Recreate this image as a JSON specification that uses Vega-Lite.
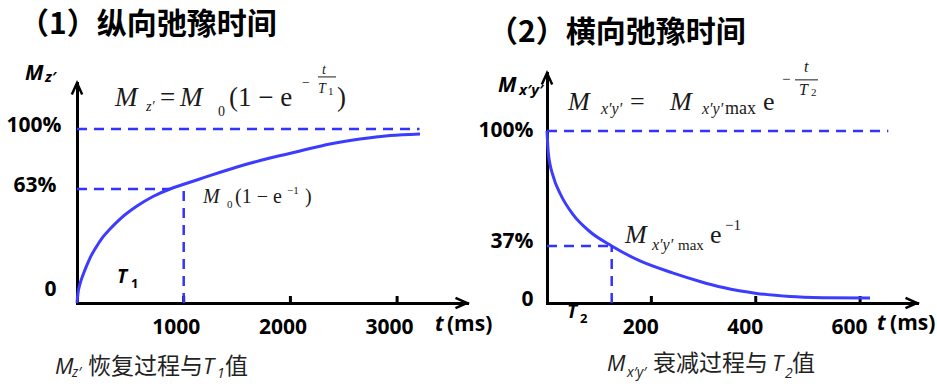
{
  "$schema": "https://vega.github.io/schema/vega-lite/v6.json",
  "width": 937,
  "height": 392,
  "autosize": {"type": "none"},
  "padding": 0,
  "background": "white",
  "config": {"view": {"stroke": null}, "axis": {"grid": false}},
  "resolve": {"scale": {"x": "independent", "y": "independent"}, "axis": {"x": "independent", "y": "independent"}},
  "layer": [
    {
      "encoding": {
        "x": {"field": "t", "type": "quantitative",
          "scale": {"domain": [0, 3655], "range": [77, 467], "nice": false, "zero": false},
          "axis": {"orient": "bottom", "offset": -89, "values": [1000, 2000, 3000], "format": "d", "title": null, "grid": false,
            "domainColor": "#000", "domainWidth": 3, "domainCap": "square", "ticks": false,
            "labelPadding": 13, "labelFont": "Open Sans", "labelFontWeight": "bold", "labelFontSize": 21, "labelColor": "#000",
            "labelOffset": -8, "labelFlush": false, "labelOverlap": false}},
        "y": {"field": "v", "type": "quantitative",
          "scale": {"type": "pow", "exponent": 0.9152, "domain": [0, 129.2], "range": [303, 83], "nice": false},
          "axis": {"orient": "left", "offset": -77, "values": [0, 63, 100], "title": null, "grid": false, "ticks": false,
            "domainColor": "#000", "domainWidth": 3, "domainCap": "square",
            "labelPadding": {"condition": {"test": "datum.value === 100", "value": 16}, "value": 21},
            "labelFont": "Open Sans", "labelFontWeight": "bold", "labelFontSize": 21, "labelColor": "#000",
            "labelExpr": "datum.value === 0 ? '0' : datum.value + '%'",
            "labelOffset": {"condition": {"test": "datum.value === 0", "value": -14}, "value": -3},
            "labelFlush": false, "labelOverlap": false}}
      },
      "layer": [
        {"data": {"values": [{"t": 1000, "v": 0, "v2": 3.0}, {"t": 2000, "v": 0, "v2": 3.0}, {"t": 3000, "v": 0, "v2": 3.0}]},
         "mark": {"type": "rule", "color": "#000", "strokeWidth": 3},
         "encoding": {"y2": {"field": "v2"}}},
        {"data": {"values": [
          {"t": 0, "v": 0}, {"t": 9.4, "v": 4.4}, {"t": 28.1, "v": 8.9}, {"t": 56.2, "v": 13.6}, {"t": 93.7, "v": 19.0},
          {"t": 121.8, "v": 22.8}, {"t": 168.7, "v": 27.8}, {"t": 243.7, "v": 34.7}, {"t": 309.3, "v": 39.3}, {"t": 403.0, "v": 45.1},
          {"t": 562.3, "v": 52.8}, {"t": 712.3, "v": 58.5}, {"t": 871.6, "v": 63.0}, {"t": 993.4, "v": 65.7},
          {"t": 1180.9, "v": 69.7}, {"t": 1499.5, "v": 76.4}, {"t": 1808.8, "v": 81.9}, {"t": 2089.9, "v": 86.3}, {"t": 2371.1, "v": 90.6},
          {"t": 2652.2, "v": 93.7}, {"t": 2933.4, "v": 95.9}, {"t": 3214.5, "v": 96.9}]},
         "mark": {"type": "line", "color": "#3c3cff", "strokeWidth": 3, "interpolate": "monotone"},
         "encoding": {}},
        {"data": {"values": [
          {"t": 0, "t2": 3210, "v": 100, "v2": 100},
          {"t": 0, "t2": 872, "v": 63, "v2": 63},
          {"t": 1000, "t2": 1000, "v": 0, "v2": 65.9}]},
         "mark": {"type": "rule", "color": "#3333ff", "strokeWidth": 2.5, "strokeDash": [10, 7]},
         "encoding": {"x2": {"field": "t2"}, "y2": {"field": "v2"}}},
        {"data": {"values": [{"t": 2258.6, "t2": 2427.3, "v": 133.1, "v2": 133.1}]},
         "mark": {"type": "rule", "color": "#1a1a1a", "strokeWidth": 1},
         "encoding": {"x2": {"field": "t2"}, "y2": {"field": "v2"}}},
        {"data": {"values": [{"t": 3655, "v": 0}]},
         "mark": {"type": "point", "shape": "M-1,-0.45L0,0L-1,0.45", "size": 529, "filled": false, "color": "#000", "strokeWidth": 2.5, "opacity": 1}},
        {"data": {"values": [{"t": 0, "v": 129.2}]},
         "mark": {"type": "point", "shape": "M-0.45,1L0,0L0.45,1", "size": 529, "filled": false, "color": "#000", "strokeWidth": 2.5, "opacity": 1}},
        {"data": {"values": [{"t": -543.6, "v": 166.8, "label": "（1）纵向弛豫时间"}]},
         "mark": {"type": "text", "align": "left", "baseline": "middle", "font": "Noto Sans CJK SC", "fontWeight": "bold", "fontSize": 30, "color": "#000"},
         "encoding": {"text": {"field": "label"}}},
        {"data": {"values": [{"t": -487.3, "v": 135.0, "label": "M"}]},
         "mark": {"type": "text", "align": "left", "baseline": "middle", "font": "Open Sans", "fontWeight": "bold", "fontStyle": "italic", "fontSize": 21, "color": "#000"},
         "encoding": {"text": {"field": "label"}}},
        {"data": {"values": [{"t": -299.9, "v": 133.1, "label": "z′"}]},
         "mark": {"type": "text", "align": "left", "baseline": "middle", "font": "Open Sans", "fontWeight": "bold", "fontStyle": "italic", "fontSize": 15, "color": "#000"},
         "encoding": {"text": {"field": "label"}}},
        {"data": {"values": [{"t": 356.1, "v": 114.5, "label": "M"}, {"t": 965.3, "v": 114.5, "label": "M"}]},
         "mark": {"type": "text", "align": "left", "baseline": "alphabetic", "font": "Liberation Serif", "fontStyle": "italic", "fontSize": 27, "color": "#1a1a1a"},
         "encoding": {"text": {"field": "label"}}},
        {"data": {"values": [{"t": 778.0, "v": 114.5, "label": "="}, {"t": 1424.5, "v": 114.5, "label": "(1 − e"}, {"t": 2436.7, "v": 114.5, "label": ")"}]},
         "mark": {"type": "text", "align": "left", "baseline": "alphabetic", "font": "Liberation Serif", "fontSize": 27, "color": "#1a1a1a"},
         "encoding": {"text": {"field": "label"}}},
        {"data": {"values": [{"t": 646.7, "v": 111.4, "label": "z′"}, {"t": 2296.1, "v": 135.0, "label": "t"}, {"t": 2258.6, "v": 122.8, "label": "T"}]},
         "mark": {"type": "text", "align": "left", "baseline": "alphabetic", "font": "Liberation Serif", "fontStyle": "italic", "fontSize": 14, "color": "#1a1a1a"},
         "encoding": {"text": {"field": "label"}}},
        {"data": {"values": [{"t": 1321.4, "v": 108.2, "label": "0"}, {"t": 2108.7, "v": 126.6, "label": "−"}]},
         "mark": {"type": "text", "align": "left", "baseline": "alphabetic", "font": "Liberation Serif", "fontSize": 14, "color": "#1a1a1a"},
         "encoding": {"text": {"field": "label"}}},
        {"data": {"values": [{"t": 2352.3, "v": 121.5, "label": "1"}, {"t": 1405.8, "v": 51.6, "label": "0"}, {"t": 1968.1, "v": 60.0, "label": "−1"}]},
         "mark": {"type": "text", "align": "left", "baseline": "alphabetic", "font": "Liberation Serif", "fontSize": 11, "color": "#1a1a1a"},
         "encoding": {"text": {"field": "label"}}},
        {"data": {"values": [{"t": 1180.8, "v": 54.6, "label": "M"}]},
         "mark": {"type": "text", "align": "left", "baseline": "alphabetic", "font": "Liberation Serif", "fontStyle": "italic", "fontSize": 20, "color": "#1a1a1a"},
         "encoding": {"text": {"field": "label"}}},
        {"data": {"values": [{"t": 1480.7, "v": 54.6, "label": "(1 − e"}, {"t": 2136.8, "v": 54.6, "label": ")"}]},
         "mark": {"type": "text", "align": "left", "baseline": "alphabetic", "font": "Liberation Serif", "fontSize": 20, "color": "#1a1a1a"},
         "encoding": {"text": {"field": "label"}}},
        {"data": {"values": [{"t": 374.9, "v": 12.5, "label": "T"}]},
         "mark": {"type": "text", "align": "left", "baseline": "middle", "font": "Open Sans", "fontWeight": "bold", "fontStyle": "italic", "fontSize": 19, "color": "#000"},
         "encoding": {"text": {"field": "label"}}},
        {"data": {"values": [{"t": 506.1, "v": 8.9, "label": "1"}]},
         "mark": {"type": "text", "align": "left", "baseline": "middle", "font": "Open Sans", "fontWeight": "bold", "fontSize": 13, "color": "#000"},
         "encoding": {"text": {"field": "label"}}},
        {"data": {"values": [{"t": 3355.1, "v": -10.4, "label": "t"}]},
         "mark": {"type": "text", "align": "left", "baseline": "middle", "font": "Open Sans", "fontWeight": "bold", "fontStyle": "italic", "fontSize": 21, "color": "#000"},
         "encoding": {"text": {"field": "label"}}},
        {"data": {"values": [{"t": 3467.6, "v": -10.4, "label": "(ms)"}]},
         "mark": {"type": "text", "align": "left", "baseline": "middle", "font": "Open Sans", "fontWeight": "bold", "fontSize": 21, "color": "#000"},
         "encoding": {"text": {"field": "label"}}},
        {"data": {"values": [{"t": -206.2, "v": -33.5, "label": "M"}, {"t": 1180.8, "v": -33.5, "label": "T"}]},
         "mark": {"type": "text", "align": "left", "baseline": "middle", "font": "Open Sans", "fontStyle": "italic", "fontSize": 22, "color": "#222"},
         "encoding": {"text": {"field": "label"}}},
        {"data": {"values": [{"t": 103.1, "v": -33.5, "label": "恢复过程与"}, {"t": 1387.0, "v": -33.5, "label": "值"}]},
         "mark": {"type": "text", "align": "left", "baseline": "middle", "font": "Noto Sans CJK SC", "fontSize": 23, "color": "#222"},
         "encoding": {"text": {"field": "label"}}},
        {"data": {"values": [{"t": -46.9, "v": -37.0, "label": "z′"}, {"t": 1312.1, "v": -37.6, "label": "1"}]},
         "mark": {"type": "text", "align": "left", "baseline": "middle", "font": "Open Sans", "fontStyle": "italic", "fontSize": 14, "color": "#222"},
         "encoding": {"text": {"field": "label"}}}
      ]
    },
    {
      "encoding": {
        "x": {"field": "t", "type": "quantitative",
          "scale": {"domain": [0, 709], "range": [547, 917], "nice": false, "zero": false},
          "axis": {"orient": "bottom", "offset": -89, "values": [200, 400, 600], "format": "d", "title": null, "grid": false,
            "domainColor": "#000", "domainWidth": 3, "domainCap": "square", "ticks": false,
            "labelPadding": 13, "labelFont": "Open Sans", "labelFontWeight": "bold", "labelFontSize": 21, "labelColor": "#000",
            "labelOffset": -11, "labelFlush": false, "labelOverlap": false}},
        "y": {"field": "v", "type": "quantitative",
          "scale": {"type": "pow", "exponent": 1.11, "domain": [0, 129.9], "range": [303, 73], "nice": false},
          "axis": {"orient": "left", "offset": -547, "values": [0, 37, 100], "title": null, "grid": false, "ticks": false,
            "domainColor": "#000", "domainWidth": 3, "domainCap": "square",
            "labelPadding": 14,
            "labelFont": "Open Sans", "labelFontWeight": "bold", "labelFontSize": 21, "labelColor": "#000",
            "labelExpr": "datum.value === 0 ? '0' : datum.value + '%'",
            "labelOffset": {"condition": {"test": "datum.value < 50", "value": -4}, "value": 0},
            "labelFlush": false, "labelOverlap": false}}
      },
      "layer": [
        {"data": {"values": [{"t": 200, "v": 0, "v2": 5.6}, {"t": 400, "v": 0, "v2": 5.6}, {"t": 600, "v": 0, "v2": 5.6}]},
         "mark": {"type": "rule", "color": "#000", "strokeWidth": 3},
         "encoding": {"y2": {"field": "v2"}}},
        {"data": {"values": [
          {"t": 0, "v": 100}, {"t": 2.5, "v": 88.4}, {"t": 12.1, "v": 75.7}, {"t": 24.9, "v": 66.7}, {"t": 50.4, "v": 54.7},
          {"t": 82.4, "v": 45.2}, {"t": 124.0, "v": 37.0}, {"t": 178.2, "v": 28.1}, {"t": 242.0, "v": 20.7}, {"t": 293.2, "v": 15.4},
          {"t": 337.8, "v": 11.4}, {"t": 401.8, "v": 7.4}, {"t": 465.6, "v": 5.2}, {"t": 529.5, "v": 4.4}, {"t": 619.0, "v": 4.1}]},
         "mark": {"type": "line", "color": "#3c3cff", "strokeWidth": 3, "interpolate": "monotone"},
         "encoding": {}},
        {"data": {"values": [
          {"t": 0, "t2": 654, "v": 100, "v2": 100},
          {"t": 0, "t2": 124, "v": 37, "v2": 37},
          {"t": 124, "t2": 124, "v": 0, "v2": 37}]},
         "mark": {"type": "rule", "color": "#3333ff", "strokeWidth": 2.5, "strokeDash": [10, 7]},
         "encoding": {"x2": {"field": "t2"}, "y2": {"field": "v2"}}},
        {"data": {"values": [{"t": 475.2, "t2": 519.3, "v": 126.4, "v2": 126.4}]},
         "mark": {"type": "rule", "color": "#1a1a1a", "strokeWidth": 1},
         "encoding": {"x2": {"field": "t2"}, "y2": {"field": "v2"}}},
        {"data": {"values": [{"t": 709, "v": 0}]},
         "mark": {"type": "point", "shape": "M-1,-0.45L0,0L-1,0.45", "size": 529, "filled": false, "color": "#000", "strokeWidth": 2.5, "opacity": 1}},
        {"data": {"values": [{"t": 0, "v": 129.9}]},
         "mark": {"type": "point", "shape": "M-0.45,1L0,0L0.45,1", "size": 529, "filled": false, "color": "#000", "strokeWidth": 2.5, "opacity": 1}},
        {"data": {"values": [{"t": -113.1, "v": 149.9, "label": "（2）横向弛豫时间"}]},
         "mark": {"type": "text", "align": "left", "baseline": "middle", "font": "Noto Sans CJK SC", "fontWeight": "bold", "fontSize": 30, "color": "#000"},
         "encoding": {"text": {"field": "label"}}},
        {"data": {"values": [{"t": -93.9, "v": 123.3, "label": "M"}]},
         "mark": {"type": "text", "align": "left", "baseline": "middle", "font": "Open Sans", "fontWeight": "bold", "fontStyle": "italic", "fontSize": 21, "color": "#000"},
         "encoding": {"text": {"field": "label"}}},
        {"data": {"values": [{"t": -53.7, "v": 121.2, "label": "x′y′"}]},
         "mark": {"type": "text", "align": "left", "baseline": "middle", "font": "Open Sans", "fontWeight": "bold", "fontStyle": "italic", "fontSize": 15, "color": "#000"},
         "encoding": {"text": {"field": "label"}}},
        {"data": {"values": [{"t": 40.2, "v": 110.9, "label": "M"}, {"t": 235.7, "v": 110.9, "label": "M"}, {"t": 149.5, "v": 38.7, "label": "M"}]},
         "mark": {"type": "text", "align": "left", "baseline": "alphabetic", "font": "Liberation Serif", "fontStyle": "italic", "fontSize": 26, "color": "#1a1a1a"},
         "encoding": {"text": {"field": "label"}}},
        {"data": {"values": [{"t": 159.0, "v": 110.9, "label": "="}, {"t": 413.9, "v": 110.9, "label": "e"}, {"t": 312.3, "v": 38.7, "label": "e"}]},
         "mark": {"type": "text", "align": "left", "baseline": "alphabetic", "font": "Liberation Serif", "fontSize": 26, "color": "#1a1a1a"},
         "encoding": {"text": {"field": "label"}}},
        {"data": {"values": [{"t": 103.5, "v": 108.9, "label": "x′y′"}, {"t": 297.0, "v": 108.9, "label": "x′y′"}, {"t": 492.5, "v": 130.4, "label": "t"}, {"t": 482.9, "v": 118.7, "label": "T"}, {"t": 201.2, "v": 34.6, "label": "x′y′"}]},
         "mark": {"type": "text", "align": "left", "baseline": "alphabetic", "font": "Liberation Serif", "fontStyle": "italic", "fontSize": 16, "color": "#1a1a1a"},
         "encoding": {"text": {"field": "label"}}},
        {"data": {"values": [{"t": 341.1, "v": 108.9, "label": "max"}]},
         "mark": {"type": "text", "align": "left", "baseline": "alphabetic", "font": "Liberation Serif", "fontSize": 18, "color": "#1a1a1a"},
         "encoding": {"text": {"field": "label"}}},
        {"data": {"values": [{"t": 251.0, "v": 34.6, "label": "max"}, {"t": 341.1, "v": 46.2, "label": "−1"}, {"t": 450.3, "v": 124.3, "label": "−"}]},
         "mark": {"type": "text", "align": "left", "baseline": "alphabetic", "font": "Liberation Serif", "fontSize": 15, "color": "#1a1a1a"},
         "encoding": {"text": {"field": "label"}}},
        {"data": {"values": [{"t": 505.9, "v": 118.2, "label": "2"}]},
         "mark": {"type": "text", "align": "left", "baseline": "alphabetic", "font": "Liberation Serif", "fontSize": 11, "color": "#1a1a1a"},
         "encoding": {"text": {"field": "label"}}},
        {"data": {"values": [{"t": 38.3, "v": -7.0, "label": "T"}]},
         "mark": {"type": "text", "align": "left", "baseline": "middle", "font": "Open Sans", "fontWeight": "bold", "fontStyle": "italic", "fontSize": 19, "color": "#000"},
         "encoding": {"text": {"field": "label"}}},
        {"data": {"values": [{"t": 63.2, "v": -11.8, "label": "2"}]},
         "mark": {"type": "text", "align": "left", "baseline": "middle", "font": "Open Sans", "fontWeight": "bold", "fontSize": 13, "color": "#000"},
         "encoding": {"text": {"field": "label"}}},
        {"data": {"values": [{"t": 632.4, "v": -15.0, "label": "t"}]},
         "mark": {"type": "text", "align": "left", "baseline": "middle", "font": "Open Sans", "fontWeight": "bold", "fontStyle": "italic", "fontSize": 21, "color": "#000"},
         "encoding": {"text": {"field": "label"}}},
        {"data": {"values": [{"t": 657.3, "v": -15.0, "label": "(ms)"}]},
         "mark": {"type": "text", "align": "left", "baseline": "middle", "font": "Open Sans", "fontWeight": "bold", "fontSize": 21, "color": "#000"},
         "encoding": {"text": {"field": "label"}}},
        {"data": {"values": [{"t": 115.0, "v": -39.3, "label": "M"}, {"t": 431.1, "v": -39.3, "label": "T"}]},
         "mark": {"type": "text", "align": "left", "baseline": "middle", "font": "Open Sans", "fontStyle": "italic", "fontSize": 22, "color": "#222"},
         "encoding": {"text": {"field": "label"}}},
        {"data": {"values": [{"t": 203.1, "v": -39.3, "label": "衰减过程与"}, {"t": 469.5, "v": -39.3, "label": "值"}]},
         "mark": {"type": "text", "align": "left", "baseline": "middle", "font": "Noto Sans CJK SC", "fontSize": 23, "color": "#222"},
         "encoding": {"text": {"field": "label"}}},
        {"data": {"values": [{"t": 153.3, "v": -44.5, "label": "x′y′"}, {"t": 456.1, "v": -45.1, "label": "2"}]},
         "mark": {"type": "text", "align": "left", "baseline": "middle", "font": "Open Sans", "fontStyle": "italic", "fontSize": 14, "color": "#222"},
         "encoding": {"text": {"field": "label"}}}
      ]
    }
  ]
}
